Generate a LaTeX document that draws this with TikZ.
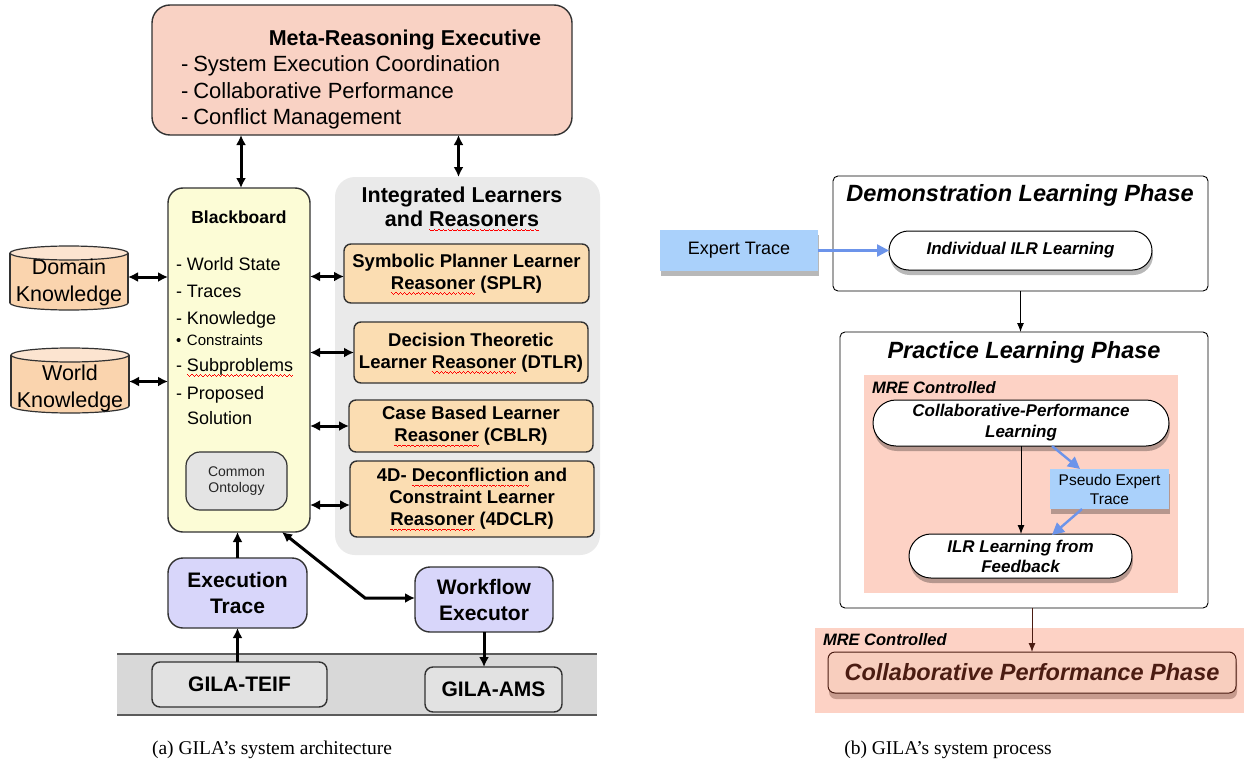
\documentclass[tikz,border=0pt]{standalone}
\usepackage{fontspec}
\setmainfont{Liberation Sans}
\newfontfamily\capfont{Liberation Serif}
\usetikzlibrary{arrows.meta,shadows,calc}
\newcommand\sq[1]{\setbox0\hbox{#1}\rlap{\smash{\textcolor{red}{\hbox to \wd0{\xleaders\hbox{\rule[-3.6pt]{1.1pt}{0.8pt}\rule[-4.4pt]{1.1pt}{0.8pt}\rule[-5.2pt]{1.1pt}{0.8pt}\rule[-4.4pt]{1.1pt}{0.8pt}}\hfill}}}}#1}
\newcommand\fs[2]{\fontsize{#1}{#2}\selectfont}
\definecolor{mrefill}{RGB}{249,210,196}
\definecolor{bbfill}{RGB}{252,252,214}
\definecolor{grpfill}{RGB}{234,234,234}
\definecolor{lrnfill}{RGB}{251,221,178}
\definecolor{cylfill}{RGB}{250,212,174}
\definecolor{cyltop}{RGB}{252,228,208}
\definecolor{lavfill}{RGB}{216,214,250}
\definecolor{gilafill}{RGB}{226,226,226}
\definecolor{bandfill}{RGB}{216,216,216}
\definecolor{onfill}{RGB}{228,228,228}
\definecolor{edge}{RGB}{50,50,50}
\definecolor{salmon}{RGB}{253,210,197}
\definecolor{expblue}{RGB}{170,209,251}
\definecolor{arrblue}{RGB}{108,148,234}
\definecolor{brownc}{RGB}{75,28,18}
\definecolor{cppfill}{RGB}{248,206,190}
\tikzset{
  txt/.style={inner sep=0pt, outer sep=0pt},
  box/.style={draw=edge, line width=1.4pt, inner sep=0pt, outer sep=0pt},
  lrn/.style={box, fill=lrnfill, rounded corners=7pt, align=center, font=\bfseries\fs{18.5}{22}},
  lav/.style={box, fill=lavfill, rounded corners=15pt, align=center, font=\bfseries\fs{21}{26}},
  gila/.style={box, fill=gilafill, rounded corners=8pt, font=\bfseries\fs{21}{24}},
  bbi/.style={txt, anchor=base west, font=\fs{18}{20}},
  dbl/.style={line width=3pt, {Latex[length=10pt,width=10pt]}-{Latex[length=10pt,width=10pt]}},
  sgl/.style={line width=3pt, -{Latex[length=10pt,width=10pt]}},
  cylline/.style={draw=edge, line width=1.2pt},
  frame/.style={draw=black, line width=0.9pt, rounded corners=5pt, fill=white, inner sep=0pt, outer sep=0pt},
  shad/.style={drop shadow={shadow xshift=1pt, shadow yshift=-5pt, opacity=0.28, fill=black}},
  pill/.style={draw=black, line width=1pt, fill=white, shad, align=center, inner sep=0pt, outer sep=0pt, font=\bfseries\itshape\fs{17}{21}},
  bluebox/.style={fill=expblue, shad, align=center, inner sep=0pt, outer sep=0pt},
  region/.style={fill=salmon, inner sep=0pt, outer sep=0pt},
  thinarr/.style={line width=0.9pt, -{Latex[length=9pt,width=7pt]}},
  bluearr/.style={draw=arrblue, line width=2.4pt, -{Triangle[length=12pt,width=12pt]}, arrblue},
  ttl/.style={txt, anchor=base, font=\bfseries\itshape\fs{23.5}{26}},
  mrec/.style={txt, anchor=base west, font=\bfseries\itshape\fs{16.5}{19}}
}
\begin{document}
\begin{tikzpicture}[x=1pt,y=-1pt]
\path[use as bounding box, fill=white] (0,0) rectangle (1244,765);

% ================= (a) architecture =================
\node[fill=grpfill, rounded corners=20pt, inner sep=0pt, outer sep=0pt, minimum width=265pt, minimum height=378pt] (grp) at (467.5,366) {};
\node[txt, anchor=base, font=\bfseries\fs{21.5}{24}] (grpt1) at (462,202) {Integrated Learners};
\node[txt, anchor=base, font=\bfseries\fs{21.5}{24}] (grpt2) at (462,226) {and \sq{Reasoners}};

\node[box, fill=mrefill, rounded corners=18pt, minimum width=420pt, minimum height=130pt] (mre) at (362,70) {};
\node[txt, anchor=base, font=\bfseries\fs{21.5}{24}] (mret) at (405,45.5) {Meta-Reasoning Executive};
\node[txt, anchor=base west, font=\fs{22}{25}] (mre1) at (181,71.5) {-\hspace{5pt}System Execution Coordination};
\node[txt, anchor=base west, font=\fs{22}{25}] (mre2) at (181,98.5) {-\hspace{5pt}Collaborative Performance};
\node[txt, anchor=base west, font=\fs{22}{25}] (mre3) at (181,124.5) {-\hspace{5pt}Conflict Management};

\node[box, fill=bbfill, rounded corners=15pt, minimum width=142pt, minimum height=344pt] (bb) at (239,360) {};
\node[txt, anchor=base, font=\bfseries\fs{17.5}{20}] (bbt) at (239,223.3) {Blackboard};
\node[bbi] (i1) at (176,270.5) {-\hspace{5pt}World State};
\node[bbi] (i2) at (176,297.5) {-\hspace{5pt}Traces};
\node[bbi] (i3) at (176,324.5) {-\hspace{5pt}Knowledge};
\node[txt, anchor=base west, font=\fs{15}{17}] (i4) at (176,345.4) {\makebox[11pt][l]{\textbullet}Constraints};
\node[bbi] (i5) at (176,371.5) {-\hspace{5pt}\sq{Subproblems}};
\node[bbi] (i6) at (176,399.5) {-\hspace{5pt}Proposed};
\node[bbi] (i7) at (187,424.5) {Solution};
\node[box, fill=onfill, line width=1.2pt, rounded corners=14pt, minimum width=101pt, minimum height=58pt, align=center, font=\fs{14}{16}, text=black!85] (onto) at (236.5,481) {Common\\Ontology};

\node[lrn, minimum width=245pt, minimum height=59pt] (splr) at (466.5,273.5) {Symbolic Planner Learner\\\sq{Reasoner} (SPLR)};
\node[lrn, minimum width=234pt, minimum height=61pt] (dtlr) at (471,352.5) {Decision Theoretic\\Learner \sq{Reasoner} (DTLR)};
\node[lrn, minimum width=244pt, minimum height=52pt] (cblr) at (471,426) {Case Based Learner\\\sq{Reasoner} (CBLR)};
\node[lrn, minimum width=244pt, minimum height=76pt] (fdclr) at (472,499) {4D- \sq{Deconfliction} and\\Constraint Learner\\\sq{Reasoner} (4DCLR)};

\draw[cylline, fill=cylfill] (69,303) ellipse [x radius=59, y radius=7];
\fill[cylfill] (10,253) rectangle (128,303);
\draw[cylline] (10,253) -- (10,303) (128,253) -- (128,303);
\draw[cylline, fill=cyltop] (69,253) ellipse [x radius=59, y radius=7];
\node[txt, minimum width=118pt, minimum height=64pt] (dom) at (69,278) {};
\node[txt, align=center, font=\fs{21.5}{27}] (domt) at (69,282) {Domain\\Knowledge};

\draw[cylline, fill=cylfill] (70,406) ellipse [x radius=59, y radius=7];
\fill[cylfill] (11,355) rectangle (129,406);
\draw[cylline] (11,355) -- (11,406) (129,355) -- (129,406);
\draw[cylline, fill=cyltop] (70,355) ellipse [x radius=59, y radius=7];
\node[txt, minimum width=118pt, minimum height=65pt] (wld) at (70,380.5) {};
\node[txt, align=center, font=\fs{21.5}{27}] (wldt) at (70,388) {World\\Knowledge};

\node[lav, minimum width=139pt, minimum height=70pt] (exec) at (237.5,593) {Execution\\Trace};
\node[lav, minimum width=138pt, minimum height=65pt] (wf) at (484,599.5) {Workflow\\Executor};

\fill[bandfill] (117,654) rectangle (597,715);
\draw[draw=edge!80, line width=1.5pt] (117,654) -- (597,654) (117,715) -- (597,715);
\node[gila, minimum width=175pt, minimum height=45pt] (teif) at (239.5,684.5) {GILA-TEIF};
\node[gila, minimum width=137pt, minimum height=45pt] (ams) at (493.5,689.5) {GILA-AMS};

\draw[dbl] ([xshift=2pt]mre.south -| bb.north) -- ([xshift=2pt]bb.north);
\draw[dbl] ([xshift=-9pt]grp.north |- mre.south) -- ([xshift=-9pt]grp.north);
\draw[dbl] ([yshift=1pt]dom.east) -- ([yshift=1pt]dom.east -| bb.west);
\draw[dbl] ([yshift=-1pt]wld.east) -- ([yshift=-1pt]wld.east -| bb.west);
\draw[dbl] ([yshift=-3pt]splr.west -| bb.east) -- ([yshift=-3pt]splr.west);
\draw[dbl] (dtlr.west -| bb.east) -- (dtlr.west);
\draw[dbl] (cblr.west -| bb.east) -- (cblr.west);
\draw[dbl] ([yshift=-6pt]fdclr.west -| bb.east) -- ([yshift=-6pt]fdclr.west);
\draw[sgl] (exec.north) -- (exec.north |- bb.south);
\draw[sgl] (exec.south |- teif.north) -- (exec.south);
\draw[sgl] (wf.south) -- (wf.south |- ams.north);
\coordinate (kink) at (365,598);
\draw[dbl] ([xshift=43pt]bb.south) -- (kink) -- (kink -| wf.west);

% ================= (b) process =================
\node[frame, minimum width=375pt, minimum height=115pt] (demo) at (1020.5,233.5) {};
\node[ttl] (demot) at (1020,201.4) {Demonstration Learning Phase};
\node[pill, rounded corners=19.5pt, minimum width=263pt, minimum height=39pt] (ilr1) at (1020.5,250.5) {Individual ILR Learning};
\node[bluebox, minimum width=158pt, minimum height=41pt, font=\fs{18}{21}] (expert) at (739,250.5) {Expert Trace};
\draw[bluearr] (expert.east) -- (ilr1.west);

\node[frame, minimum width=368pt, minimum height=276pt] (prac) at (1024,470) {};
\node[ttl] (pract) at (1024,358.4) {Practice Learning Phase};
\node[region, minimum width=314pt, minimum height=218pt] (reg1) at (1021,484) {};
\node[mrec] (reg1t) at (872,393) {MRE Controlled};
\node[pill, rounded corners=23pt, minimum width=296pt, minimum height=46pt] (collab) at (1021,423) {Collaborative-Performance\\Learning};
\node[bluebox, minimum width=119pt, minimum height=40pt, font=\fs{15.5}{19}] (pseudo) at (1109.5,489) {Pseudo Expert\\Trace};
\node[pill, rounded corners=22pt, minimum width=223pt, minimum height=44pt, font=\bfseries\itshape\fs{17}{20}] (ilrfb) at (1020.5,556) {ILR Learning from\\Feedback};
\draw[thinarr] (collab.south) -- (collab.south |- ilrfb.north);
\draw[bluearr] ([xshift=31pt]collab.south) -- ([xshift=-29.5pt]pseudo.north);
\draw[bluearr] ([xshift=-27.5pt]pseudo.south) -- ([xshift=31.5pt,yshift=-1pt]ilrfb.north);
\draw[thinarr] (demo.south) -- (demo.south |- prac.north);

\node[region, minimum width=429pt, minimum height=85pt] (reg2) at (1029.5,670.5) {};
\node[mrec] (reg2t) at (823,645) {MRE Controlled};
\node[draw=brownc, line width=1pt, fill=cppfill, rounded corners=7pt, inner sep=0pt, outer sep=0pt, minimum width=408pt, minimum height=41pt, drop shadow={shadow xshift=1pt, shadow yshift=-6pt, opacity=0.3, fill=brownc}, text=brownc, font=\bfseries\itshape\fs{23.5}{26}] (cpp) at (1032,672.5) {Collaborative Performance Phase};
\draw[thinarr, draw=brownc, brownc] (cpp.north |- prac.south) -- (cpp.north);

\node[txt, font=\capfont\fs{19.5}{22}] (capa) at (272,750) {(a) GILA’s system architecture};
\node[txt, font=\capfont\fs{19.5}{22}] (capb) at (948,750) {(b) GILA’s system process};
\end{tikzpicture}
\end{document}
